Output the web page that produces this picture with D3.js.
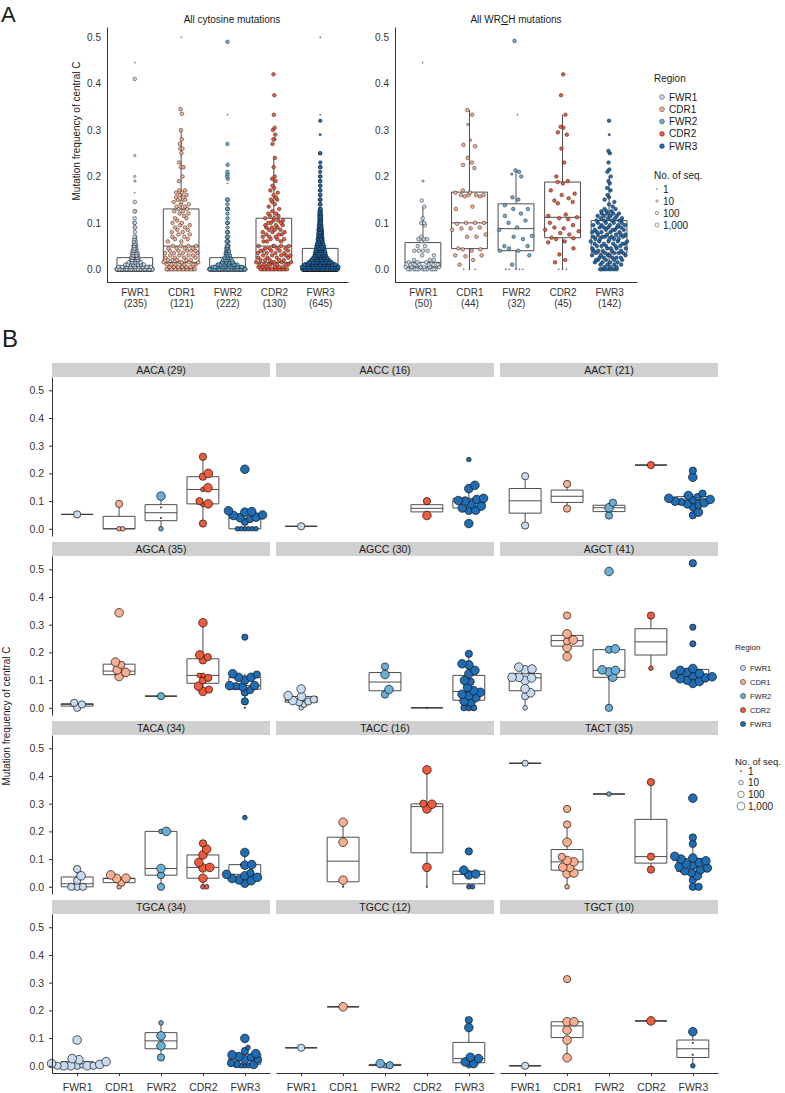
<!DOCTYPE html>
<html>
<head>
<meta charset="utf-8">
<script src="https://cdn.jsdelivr.net/npm/d3@7"></script>
<style>
  body { margin: 0; background: #fff; }
</style>
</head>
<body>
<svg id="fig" width="785" height="1093"></svg>
<script>
var regions = ["FWR1", "CDR1", "FWR2", "CDR2", "FWR3"];
var regionColors = ["#c6dbef", "#fcae91", "#6baed6", "#f15a3c", "#1f6db5"];
var cytoCounts = [235, 121, 222, 130, 645];
var wrchCounts = [50, 44, 32, 45, 142];
var seqBreaks = [1, 10, 100, 1000];
var yTicks = [0, 0.1, 0.2, 0.3, 0.4, 0.5];

// Panel A: [mutation frequency, number of positions, seqs per position (default 300)]
var cytoFWR1 = [[0,105],[0.005,25],[0.01,20],[0.015,12],[0.02,10],[0.025,8],[0.03,9],[0.035,6],[0.04,7],[0.045,4],[0.05,4],[0.055,3],[0.06,3],[0.065,2],[0.07,2],[0.08,1],[0.09,2],[0.1,2],[0.11,1],[0.125,2],[0.145,1],[0.165,1,1],[0.19,1,10],[0.2,1,10],[0.245,1,10],[0.41,1],[0.445,1,1]];
var cytoCDR1 = [[0,16],[0.005,6],[0.01,6],[0.015,5],[0.02,5],[0.025,4],[0.03,4],[0.035,4],[0.04,5],[0.045,4],[0.05,4],[0.06,2],[0.065,2],[0.07,2],[0.075,2],[0.08,2],[0.085,2],[0.09,2],[0.095,2],[0.1,2],[0.105,1],[0.11,2],[0.115,1],[0.12,2],[0.125,2],[0.13,2],[0.135,2],[0.14,2],[0.145,2],[0.15,2],[0.155,2],[0.16,2],[0.165,2],[0.17,2],[0.19,1],[0.2,1],[0.22,2],[0.23,1],[0.25,1],[0.26,2],[0.27,1],[0.28,1],[0.3,1],[0.335,1],[0.345,1],[0.5,1,1]];
var cytoFWR2 = [[0,100],[0.005,22],[0.01,18],[0.015,12],[0.02,10],[0.025,7],[0.03,6],[0.035,4],[0.04,4],[0.045,3],[0.05,4],[0.06,4],[0.07,3],[0.08,3],[0.09,1],[0.1,3],[0.11,1],[0.12,1],[0.13,3],[0.14,1],[0.15,3],[0.185,1,1],[0.195,1],[0.2,1],[0.205,1],[0.21,1],[0.225,1],[0.27,1],[0.333,1,1],[0.49,1]];
var cytoCDR2 = [[0,15],[0.005,6],[0.01,7],[0.015,5],[0.02,5],[0.025,4],[0.03,5],[0.035,4],[0.04,5],[0.045,4],[0.05,5],[0.06,3],[0.065,3],[0.07,3],[0.075,3],[0.08,3],[0.085,3],[0.09,3],[0.095,3],[0.1,3],[0.105,3],[0.11,2],[0.115,2],[0.12,2],[0.125,1],[0.13,1],[0.135,1],[0.14,1],[0.145,1],[0.15,2],[0.155,1],[0.16,1],[0.165,1],[0.17,1],[0.175,1],[0.18,1],[0.19,1],[0.195,1],[0.2,1],[0.22,1],[0.24,1],[0.27,1],[0.28,2],[0.29,1],[0.3,1],[0.305,1],[0.333,1],[0.375,1],[0.42,1]];
var cytoFWR3 = [[0,205],[0.005,65],[0.01,55],[0.015,40],[0.02,30],[0.025,25],[0.03,23],[0.035,20],[0.04,18],[0.045,21],[0.05,14],[0.055,12],[0.06,11],[0.065,10],[0.07,9],[0.075,8],[0.08,8],[0.085,7],[0.09,6],[0.095,5],[0.1,5],[0.105,4],[0.11,4],[0.115,4],[0.12,4],[0.125,3],[0.13,3],[0.14,3],[0.15,3],[0.16,2],[0.17,2],[0.18,2],[0.19,2],[0.2,2],[0.21,1],[0.22,2],[0.23,1],[0.25,2],[0.29,1,10],[0.32,1],[0.333,1,1],[0.5,1,1]];

var wrchFWR1 = [[0,11],[0.005,6],[0.01,6],[0.015,3],[0.02,3],[0.03,2],[0.04,4],[0.05,2],[0.06,1],[0.065,3],[0.07,1],[0.095,1],[0.1,2],[0.11,1],[0.135,1],[0.148,1],[0.19,1,10],[0.445,1,1]];
var wrchCDR1 = [[0,3,1],[0.01,1],[0.02,1],[0.028,1],[0.03,2],[0.04,1],[0.043,2],[0.045,1],[0.07,2],[0.075,1],[0.085,1],[0.088,2],[0.09,1],[0.098,1],[0.1,3],[0.13,1],[0.135,1],[0.157,2],[0.16,4],[0.165,2],[0.17,1],[0.218,1],[0.225,1],[0.23,1],[0.24,1],[0.265,1],[0.268,1],[0.278,1,10],[0.312,1,10],[0.333,1],[0.343,1]];
var wrchFWR2 = [[0,5,1],[0.01,1],[0.03,1],[0.04,2],[0.045,1],[0.05,2],[0.065,1],[0.07,1],[0.072,1],[0.085,1],[0.09,1],[0.1,1],[0.105,1],[0.115,1],[0.12,1],[0.13,2],[0.138,1],[0.15,1],[0.155,1],[0.2,1],[0.205,1,10],[0.21,1],[0.213,1],[0.333,1,1],[0.492,1]];
var wrchCDR2 = [[0,3,1],[0.015,1],[0.02,1],[0.032,1],[0.045,1],[0.058,1],[0.06,1],[0.065,1],[0.067,1],[0.068,1],[0.075,1],[0.078,1],[0.082,1],[0.085,1],[0.088,1],[0.09,1],[0.095,1],[0.1,1],[0.108,1],[0.11,1],[0.112,1],[0.115,1],[0.118,1],[0.142,1],[0.145,1],[0.148,1],[0.153,1],[0.16,1],[0.163,1],[0.17,1],[0.185,1],[0.188,1],[0.19,1],[0.2,1],[0.23,1],[0.26,1],[0.29,1],[0.295,1],[0.305,1],[0.307,1],[0.333,1],[0.375,1],[0.42,1]];
var wrchFWR3 = [[0,8],[0.005,3],[0.01,4],[0.015,4],[0.02,5],[0.025,5],[0.03,5],[0.035,5],[0.04,5],[0.045,5],[0.05,5],[0.055,5],[0.06,5],[0.065,5],[0.07,5],[0.075,5],[0.08,5],[0.085,5],[0.09,5],[0.095,5],[0.1,4],[0.105,4],[0.11,4],[0.115,4],[0.12,4],[0.125,3],[0.13,2],[0.135,1],[0.14,1],[0.145,1],[0.15,1],[0.155,1],[0.16,1],[0.17,1],[0.175,1],[0.185,1],[0.19,1],[0.2,1],[0.21,1],[0.215,1],[0.23,1],[0.25,1],[0.255,1],[0.29,1,10],[0.32,1]];

// Panel B: per motif, one list per region of [mutation frequency, no. of seqs]
var T = 1, S = 10, m = 60, M = 300, L = 3000;
var motifs = ["AACA", "AACC", "AACT", "AGCA", "AGCC", "AGCT", "TACA", "TACC", "TACT", "TGCA", "TGCC", "TGCT"];
var motifTotals = [29, 16, 21, 35, 30, 41, 34, 16, 35, 34, 12, 10];

var AACA = [
  [[0.052, M]],
  [[0, S], [0, S], [0.09, M]],
  [[0, S], [0.039, T], [0.077, T], [0.118, L]],
  [[0.019, M], [0.088, S], [0.09, L], [0.1, M], [0.142, S], [0.148, L], [0.188, M], [0.2, L], [0.26, M]],
  [[0, S], [0, S], [0, S], [0, S], [0, S], [0, S], [0.025, M], [0.035, M], [0.04, L], [0.042, L], [0.048, L], [0.05, L], [0.06, L], [0.062, L], [0.065, L], [0.215, L]]
];
var AACC = [
  [[0.009, M]],
  [],
  [],
  [[0.048, L], [0.1, M]],
  [[0.019, L], [0.067, L], [0.067, L], [0.075, L], [0.082, L], [0.09, L], [0.1, L], [0.102, L], [0.106, L], [0.11, L], [0.145, L], [0.157, L], [0.25, S]]
];
var AACT = [
  [[0.012, M], [0.19, M]],
  [[0.073, M], [0.162, M]],
  [[0.048, M], [0.076, L], [0.094, M]],
  [[0.23, M]],
  [[0.049, M], [0.06, L], [0.078, M], [0.085, M], [0.09, L], [0.094, L], [0.097, M], [0.1, L], [0.104, M], [0.106, L], [0.11, L], [0.115, M], [0.12, L], [0.127, M], [0.186, L], [0.21, M]]
];
var AGCA = [
  [[0, M], [0.012, M], [0.018, M]],
  [[0.113, L], [0.118, T], [0.12, T], [0.128, L], [0.137, L], [0.155, M], [0.165, L], [0.343, L]],
  [[0.042, M]],
  [[0.059, L], [0.066, M], [0.078, L], [0.099, M], [0.108, M], [0.117, S], [0.117, S], [0.171, M], [0.183, M], [0.191, L], [0.307, L]],
  [[0, T], [0.023, M], [0.055, M], [0.064, M], [0.076, L], [0.078, M], [0.08, L], [0.08, L], [0.1, L], [0.11, L], [0.11, L], [0.12, M], [0.123, L], [0.255, m]]
];
var AGCC = [
  [[0, S], [0.012, m], [0.02, M], [0.023, M], [0.026, L], [0.03, M], [0.041, L], [0.044, L], [0.068, L]],
  [],
  [[0.048, M], [0.066, L], [0.12, L], [0.149, M]],
  [[0, T]],
  [[0, m], [0, m], [0, m], [0.02, L], [0.024, L], [0.037, L], [0.044, L], [0.049, L], [0.056, L], [0.062, L], [0.074, L], [0.094, M], [0.099, L], [0.123, L], [0.135, L], [0.155, L], [0.159, L], [0.195, M]]
];
var AGCT = [
  [[0, S], [0.042, M], [0.054, L], [0.069, L], [0.099, L], [0.108, L], [0.11, L], [0.11, L], [0.137, L], [0.14, L], [0.147, L]],
  [[0.185, L], [0.217, L], [0.24, M], [0.245, L], [0.267, L], [0.333, M]],
  [[0, M], [0.105, T], [0.11, L], [0.13, L], [0.135, L], [0.137, L], [0.21, M], [0.213, L], [0.492, L]],
  [[0.143, S], [0.333, M]],
  [[0.088, L], [0.095, L], [0.1, L], [0.105, L], [0.108, L], [0.112, L], [0.116, L], [0.12, L], [0.124, L], [0.128, L], [0.135, L], [0.142, L], [0.231, m], [0.291, m], [0.522, M]]
];
var TACA = [
  [[0, M], [0, M], [0, M], [0.022, M], [0.04, L], [0.064, M]],
  [[0, S], [0.015, M], [0.03, L], [0.031, L], [0.043, L]],
  [[0, M], [0.042, M], [0.066, L], [0.2, S], [0.2, L]],
  [[0, S], [0, S], [0.031, L], [0.068, L], [0.07, L], [0.088, L], [0.115, L], [0.136, L], [0.157, M]],
  [[0.013, L], [0.022, L], [0.025, L], [0.03, L], [0.034, L], [0.04, L], [0.045, L], [0.05, M], [0.078, L], [0.08, L], [0.08, T], [0.124, L], [0.25, S]]
];
var TACC = [
  [],
  [[0, T], [0.024, L], [0.161, L], [0.233, L]],
  [],
  [[0, T], [0.07, L], [0.281, L], [0.298, L], [0.3, M], [0.422, L]],
  [[0, S], [0, S], [0.043, L], [0.046, L], [0.06, L], [0.128, M]]
];
var TACT = [
  [[0.446, m]],
  [[0, S], [0.047, L], [0.05, L], [0.07, L], [0.071, L], [0.09, L], [0.095, L], [0.108, M], [0.161, L], [0.225, M], [0.281, M]],
  [[0.335, S]],
  [[0.062, M], [0.109, M], [0.378, M]],
  [[0, M], [0, M], [0.024, M], [0.04, L], [0.052, L], [0.058, L], [0.062, L], [0.068, L], [0.073, L], [0.078, L], [0.083, L], [0.088, L], [0.094, L], [0.1, L], [0.104, L], [0.11, L], [0.155, M], [0.178, M], [0.32, L]]
];
var TGCA = [
  [[0, M], [0, S], [0, L], [0, L], [0, L], [0, M], [0, M], [0.005, L], [0.008, L], [0.015, L], [0.022, L], [0.026, L], [0.093, L]],
  [],
  [[0.03, M], [0.072, L], [0.108, L], [0.155, S]],
  [],
  [[0, S], [0, S], [0, S], [0.005, L], [0.006, M], [0.01, M], [0.022, L], [0.022, M], [0.03, M], [0.033, L], [0.04, L], [0.044, L], [0.053, M], [0.066, S], [0.099, L]]
];
var TGCC = [
  [[0.065, M]],
  [[0.213, L]],
  [[0, S], [0.002, M], [0.008, L]],
  [],
  [[0, S], [0.008, L], [0.014, L], [0.026, L], [0.031, L], [0.138, L], [0.165, M]]
];
var TGCT = [
  [[0, M]],
  [[0.029, L], [0.093, L], [0.129, L], [0.159, L], [0.159, L], [0.313, M]],
  [],
  [[0.162, L]],
  [[0, S], [0.04, T], [0.083, T], [0.123, L]]
];
var motifData = [AACA, AACC, AACT, AGCA, AGCC, AGCT, TACA, TACC, TACT, TGCA, TGCC, TGCT];

var font = "'Liberation Sans', Arial, Helvetica, sans-serif";
var svg = d3.select("#fig").attr("font-family", font);
var colorOf = d3.scaleOrdinal(regions, regionColors);

// point size: area grows with log10 of no. of seqs
var sizeA = d3.scaleSqrt().domain([0, 3]).range([0, 2.0]);
var sizeB = d3.scaleSqrt().domain([0, 3]).range([0, 4.0]);
function radiusA(n) { return Math.max(0.5, sizeA(Math.log10(n))); }
function radiusB(n) { return Math.max(0.7, sizeB(Math.log10(n))); }

function boxStats(vals) {
  var v = vals.slice().sort(d3.ascending);
  var q1 = d3.quantileSorted(v, 0.25), med = d3.quantileSorted(v, 0.5), q3 = d3.quantileSorted(v, 0.75);
  var iqr = q3 - q1;
  return {
    q1: q1, med: med, q3: q3,
    lo: d3.min(v.filter(d => d >= q1 - 1.5 * iqr)),
    hi: d3.max(v.filter(d => d <= q3 + 1.5 * iqr))
  };
}

function drawBox(g, s, cx, halfW, y) {
  var b = g.append("g").attr("fill", "none").attr("stroke", "#3a3a3a").attr("stroke-width", 0.9);
  b.append("line").attr("x1", cx).attr("x2", cx).attr("y1", y(s.hi)).attr("y2", y(s.q3));
  b.append("line").attr("x1", cx).attr("x2", cx).attr("y1", y(s.q1)).attr("y2", y(s.lo));
  b.append("path").attr("d", `M${cx - halfW},${y(s.q3)}H${cx + halfW}V${y(s.q1)}H${cx - halfW}Z`);
  b.append("line").attr("x1", cx - halfW).attr("x2", cx + halfW).attr("y1", y(s.med)).attr("y2", y(s.med));
}

function vdc(i) {
  var v = 0, denom = 1;
  while (i > 0) { denom *= 2; v += (i % 2) / denom; i = Math.floor(i / 2); }
  return v;
}

// quasirandom offsets (van der Corput spread scaled by kernel density)
function quasiOffsets(vals, maxW) {
  var n = vals.length;
  var sorted = vals.slice().sort(d3.ascending);
  var sd = d3.deviation(vals) || 0.01;
  var iqr = d3.quantileSorted(sorted, 0.75) - d3.quantileSorted(sorted, 0.25);
  var bw = 0.9 * Math.min(sd, iqr > 0 ? iqr / 1.34 : sd) * Math.pow(n, -0.2);
  var dens = vals.map(v => d3.sum(vals, u => Math.exp(-0.5 * Math.pow((v - u) / bw, 2))));
  var maxD = d3.max(dens);
  var order = d3.range(n).sort((a, b) => vals[a] - vals[b] || a - b);
  var off = new Array(n);
  order.forEach((idx, rank) => { off[idx] = (vdc(rank + 1) * 2 - 1) * maxW * dens[idx] / maxD; });
  return off;
}

// beeswarm placement in pixel space
function swarm(items, k) {
  var order = d3.range(items.length).sort((a, b) => items[a].v - items[b].v || a - b);
  var placed = [];
  order.forEach(idx => {
    var it = items[idx];
    var cands = [0];
    placed.forEach(p => {
      var d = (it.r + p.r) * k, dy = it.py - p.py;
      if (Math.abs(dy) < d) {
        var dx = Math.sqrt(d * d - dy * dy);
        cands.push(p.x + dx, p.x - dx);
      }
    });
    var best = null;
    cands.forEach(c => {
      var ok = placed.every(p => {
        var d = (it.r + p.r) * k;
        return (c - p.x) * (c - p.x) + (it.py - p.py) * (it.py - p.py) >= d * d - 1e-6;
      });
      if (ok && (best === null || Math.abs(c) < Math.abs(best) - 1e-9)) best = c;
    });
    it.x = best;
    placed.push(it);
  });
}

function styleAxis(g, size) {
  g.attr("font-family", font).attr("font-size", size);
  g.select(".domain").attr("stroke", "#1a1a1a").attr("stroke-width", 0.9);
  g.selectAll(".tick line").attr("stroke", "#333");
  g.selectAll(".tick text").attr("fill", "#333");
}

// ---------- Panel A ----------
function drawPanelA(x0, x1, series, counts) {
  var y = d3.scaleLinear().domain([-0.0274, 0.522]).range([282, 27]);
  var x = d3.scalePoint().domain(regions).range([x0, x1]).padding(0.6);
  var g = svg.append("g");
  var halfW = x.step() * 0.385;

  series.forEach((bins, i) => {
    var pts = [];
    bins.forEach(b => { for (var c = 0; c < b[1]; c++) pts.push({ v: b[0], n: b[2] || 300 }); });
    var vals = pts.map(d => d.v);
    var cx = x(regions[i]);
    drawBox(g, boxStats(vals), cx, halfW, y);
    var off = quasiOffsets(vals, x.step() * 0.4);
    g.append("g").selectAll("circle").data(pts).join("circle")
      .attr("cx", (d, k) => cx + off[k])
      .attr("cy", d => y(d.v))
      .attr("r", d => radiusA(d.n))
      .attr("fill", colorOf(regions[i]))
      .attr("stroke", "#111")
      .attr("stroke-width", 0.45);
  });

  var yAxis = svg.append("g")
    .attr("transform", `translate(${x0},0)`)
    .call(d3.axisLeft(y).tickValues(yTicks).tickFormat(d3.format(".1f")).tickSize(0).tickPadding(6));
  styleAxis(yAxis, 10);

  var xAxis = svg.append("g")
    .attr("transform", "translate(0,282)")
    .call(d3.axisBottom(x).tickSize(0).tickPadding(7));
  styleAxis(xAxis, 10);
  xAxis.selectAll(".tick text").each(function(d, i) {
    var t = d3.select(this);
    t.text(null);
    t.append("tspan").attr("x", 0).text(d);
    t.append("tspan").attr("x", 0).attr("dy", "1.1em").text(`(${counts[i]})`);
  });
}

drawPanelA(107, 348, [cytoFWR1, cytoCDR1, cytoFWR2, cytoCDR2, cytoFWR3], cytoCounts);
drawPanelA(395, 637, [wrchFWR1, wrchCDR1, wrchFWR2, wrchCDR2, wrchFWR3], wrchCounts);

svg.append("text").attr("x", 232).attr("y", 23).attr("text-anchor", "middle")
  .attr("font-size", 10).attr("fill", "#1a1a1a").text("All cytosine mutations");
var wt = svg.append("text").attr("x", 516).attr("y", 23).attr("text-anchor", "middle")
  .attr("font-size", 10).attr("fill", "#1a1a1a");
wt.append("tspan").text("All WR");
wt.append("tspan").attr("text-decoration", "underline").text("C");
wt.append("tspan").text("H mutations");

svg.append("text").attr("transform", "translate(80,131) rotate(-90)").attr("text-anchor", "middle")
  .attr("font-size", 10).attr("fill", "#1a1a1a").text("Mutation frequency of central C");

svg.append("text").attr("x", 1).attr("y", 22).attr("font-size", 22).attr("fill", "#1a1a1a").text("A");
svg.append("text").attr("x", 2).attr("y", 347).attr("font-size", 24).attr("fill", "#1a1a1a").text("B");

// legend A
var legA = svg.append("g").attr("font-size", 10).attr("fill", "#1a1a1a");
legA.append("text").attr("x", 654).attr("y", 82).text("Region");
regions.forEach((r, i) => {
  var cy = 97 + 12.3 * i;
  legA.append("circle").attr("cx", 662).attr("cy", cy).attr("r", 2.4)
    .attr("fill", colorOf(r)).attr("stroke", "#333").attr("stroke-width", 0.5);
  legA.append("text").attr("x", 669).attr("y", cy + 3.5).text(r);
});
legA.append("text").attr("x", 654).attr("y", 179).text("No. of seq.");
seqBreaks.forEach((n, i) => {
  var cy = 189 + 12 * i;
  legA.append("circle").attr("cx", 657).attr("cy", cy).attr("r", radiusA(n))
    .attr("fill", "none").attr("stroke", "#555").attr("stroke-width", 0.6);
  legA.append("text").attr("x", 663).attr("y", cy + 3.5).text(d3.format(",")(n));
});

// ---------- Panel B ----------
var colX = [52, 276, 500], facetW = 218;

motifs.forEach((name, k) => {
  var col = k % 3, row = Math.floor(k / 3);
  var x0 = colX[col], top = 363 + row * 179;
  var y = d3.scaleLinear().domain([-0.026, 0.548]).range([top + 173, top + 14]);
  var x = d3.scalePoint().domain(regions).range([x0, x0 + facetW]).padding(0.6);
  var g = svg.append("g");

  g.append("rect").attr("x", x0).attr("y", top).attr("width", facetW).attr("height", 14).attr("fill", "#d0d0d0");
  g.append("text").attr("x", x0 + facetW / 2).attr("y", top + 10.6).attr("text-anchor", "middle")
    .attr("font-size", 10.5).attr("fill", "#1a1a1a").text(`${name} (${motifTotals[k]})`);

  if (col === 0) {
    var ya = svg.append("g").attr("transform", `translate(${x0},0)`)
      .call(d3.axisLeft(y).tickValues(yTicks).tickFormat(d3.format(".1f")).tickSize(3).tickSizeOuter(0).tickPadding(5));
    styleAxis(ya, 10.5);
  }
  if (row === 3) {
    var xa = svg.append("g").attr("transform", `translate(0,${top + 173})`)
      .call(d3.axisBottom(x).tickSize(3).tickSizeOuter(0).tickPadding(8));
    styleAxis(xa, 10.5);
  }

  var halfW = x.step() * 0.38;
  motifData[k].forEach((pts, i) => {
    if (!pts.length) return;
    var cx = x(regions[i]);
    drawBox(g, boxStats(pts.map(p => p[0])), cx, halfW, y);
    var items = pts.map(p => ({ v: p[0], n: p[1], r: radiusB(p[1]), py: y(p[0]) }));
    swarm(items, 0.8);
    g.append("g").selectAll("circle").data(items).join("circle")
      .attr("cx", d => cx + d.x)
      .attr("cy", d => d.py)
      .attr("r", d => d.r)
      .attr("fill", colorOf(regions[i]))
      .attr("stroke", "#111")
      .attr("stroke-width", 0.7);
  });
});

svg.append("text").attr("transform", "translate(10,716) rotate(-90)").attr("text-anchor", "middle")
  .attr("font-size", 10).attr("fill", "#1a1a1a").text("Mutation frequency of central C");

// legend B
var legB = svg.append("g").attr("fill", "#1a1a1a");
legB.append("text").attr("x", 735).attr("y", 650).attr("font-size", 8).text("Region");
regions.forEach((r, i) => {
  var cy = 668 + 14 * i;
  legB.append("circle").attr("cx", 743).attr("cy", cy).attr("r", 2.6)
    .attr("fill", colorOf(r)).attr("stroke", "#333").attr("stroke-width", 0.6);
  legB.append("text").attr("x", 750).attr("y", cy + 2.7).attr("font-size", 7.5).text(r);
});
legB.append("text").attr("x", 735).attr("y", 765).attr("font-size", 9.5).text("No. of seq.");
seqBreaks.forEach((n, i) => {
  var cy = 771 + 11.7 * i;
  legB.append("circle").attr("cx", 741).attr("cy", cy).attr("r", radiusB(n))
    .attr("fill", "none").attr("stroke", "#555").attr("stroke-width", 0.7);
  legB.append("text").attr("x", 748).attr("y", cy + 3.5).attr("font-size", 10).text(d3.format(",")(n));
});
</script>
</body>
</html>
